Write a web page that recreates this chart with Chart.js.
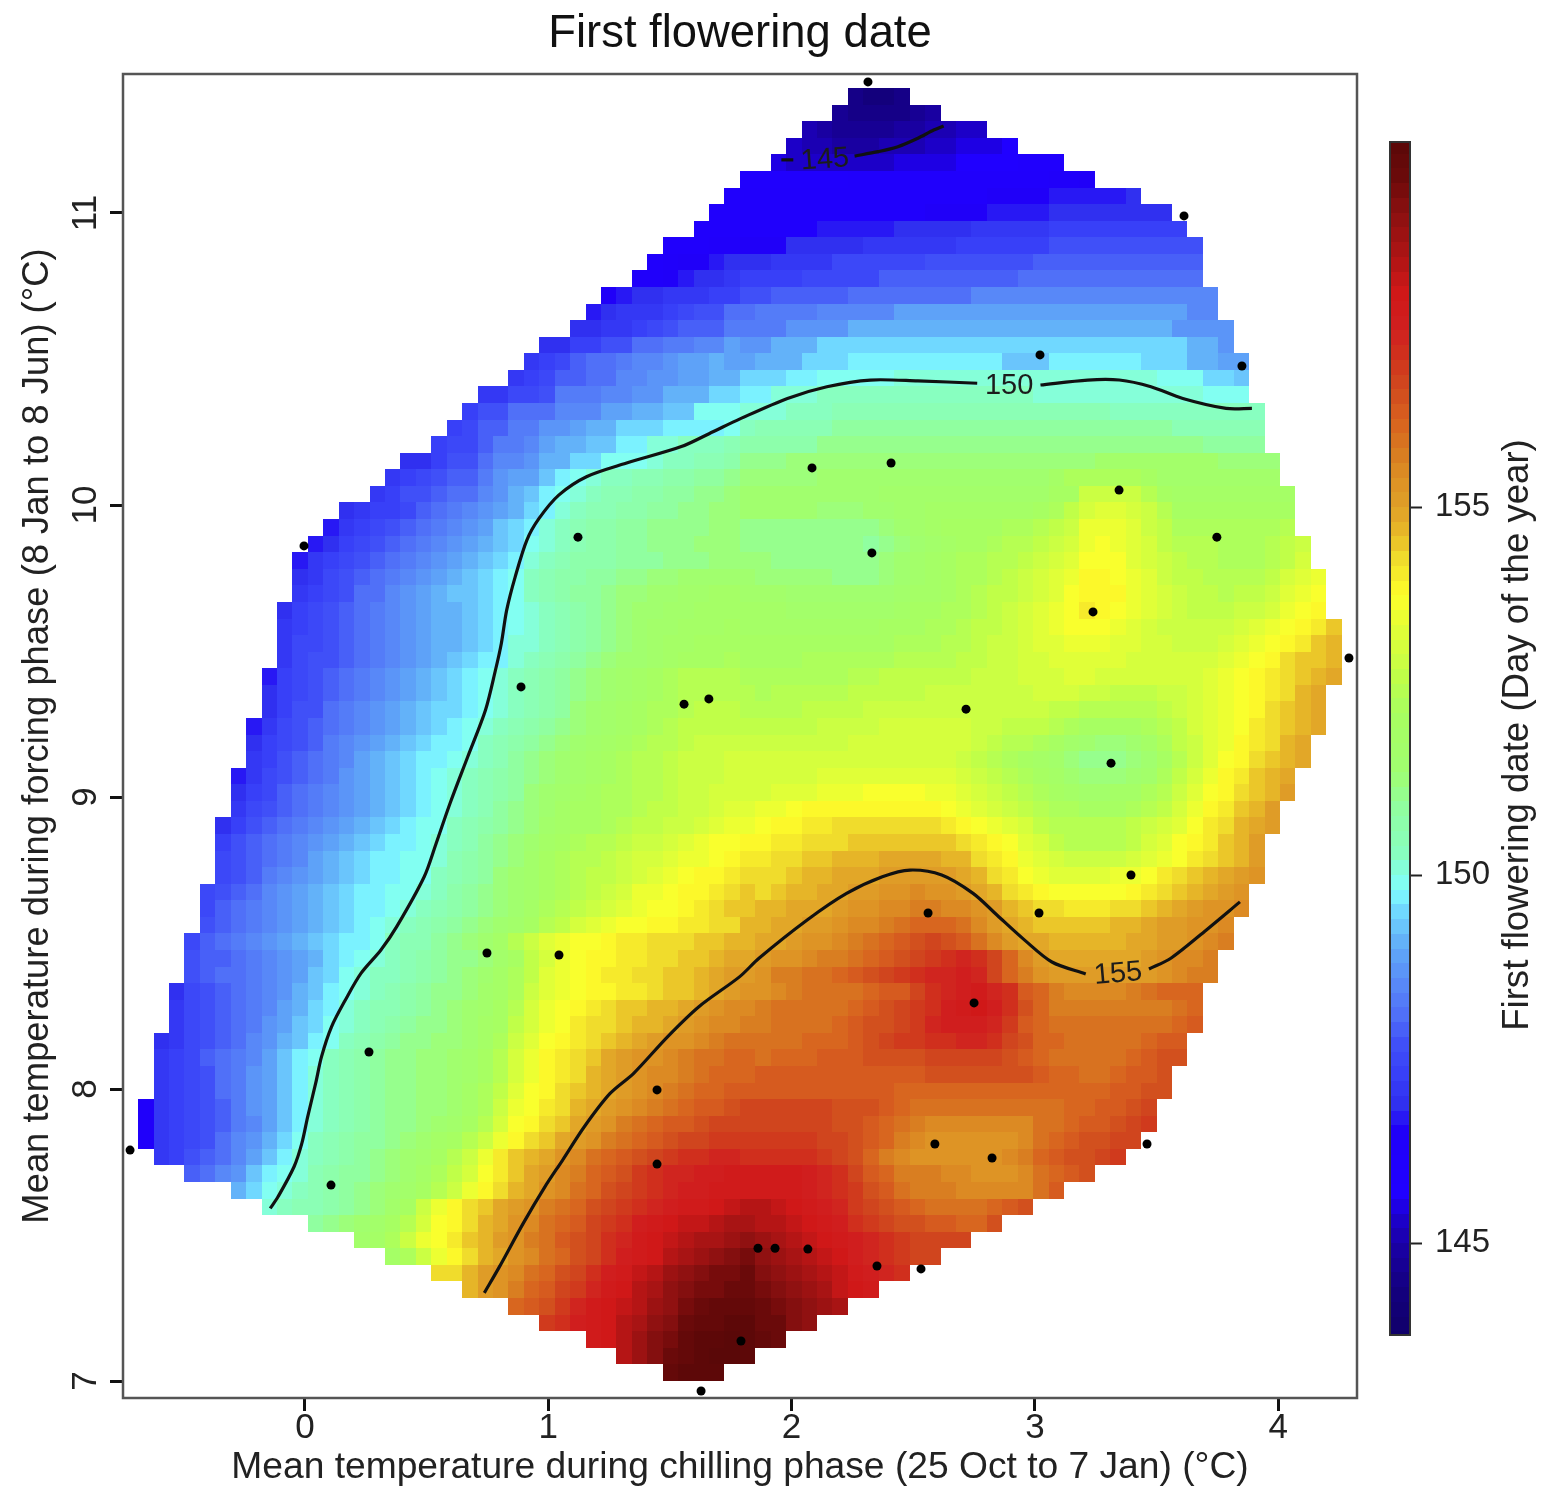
<!DOCTYPE html>
<html>
<head>
<meta charset="utf-8">
<title>First flowering date</title>
<script src="https://cdn.jsdelivr.net/npm/chart.js@4/dist/chart.umd.min.js"></script>
<style>
  html, body { margin: 0; background: #fff; }
  #wrap { position: relative; width: 1561px; height: 1501px; }
  canvas { position: absolute; top: 0; }
  #main { left: 0; }
  #bar { left: 1370px; }
</style>
</head>
<body>
<div id="wrap">
  <canvas id="main" width="1561" height="1501"></canvas>
  <canvas id="bar" width="191" height="1501"></canvas>
</div>
<script>
const xTicks = [0, 1, 2, 3, 4];
const yTicks = [7, 8, 9, 10, 11];
const barTicks = [145, 150, 155];

// grid: first cell centre and spacing, in axis units
const gridX0 = -0.654, gridDx = 0.06342;
const gridY0 = 11.399, gridDy = 0.05675;

// first column of each row, top row first
const rowStarts = [46,45,43,42,41,39,38,37,36,34,33,32,30,29,28,26,25,24,22,21,20,19,17,16,15,13,12,11,10,10,10,9,9,9,9,8,8,8,7,7,7,6,6,6,5,5,5,5,4,4,4,3,3,3,2,2,2,1,1,1,1,0,0,0,1,3,6,8,11,14,16,19,21,24,26,29,31,34];

// flowering date per cell, in tenths of a day above day 140 (100 = day 150)
const cellRows = [
[45,43,43,45],
[47,45,44,44,45, 46,48],
[50,48,47,46,46,47,48, 49,50,51,52,53],
[52,51,50,49,49,49,50,51, 51,52,53,54,55,55,56],
[54,53,53,52,52,52,53,53,54, 54,55,55,56,56,57,57,58,58,58],
[58, 58,58,58,58,58,58,60,60,60,60, 60,60,60,60,60,60,60,60,60,63, 63,64],
[60,60, 60,60,60,60,60,60,60,60,60,60, 60,60,60,61,61,65,65,65,65,66, 66,66,66,67,68],
[60,60,60, 60,60,60,60,60,60,60,60,60,60, 60,64,64,64,64,67,67,67,67,69, 69,69,69,69,69,69,69],
[61,61,61,61, 61,61,61,61,66,66,66,66,66,68, 68,68,68,68,70,70,70,70,70,72, 72,72,72,72,72,72,72,72],
[60,60,61,62,63,65, 65,65,68,68,68,68,68,71,71,71, 71,71,71,73,73,73,73,73,73,76, 76,76,76,76,76,76,76,76,76],
[60,63,65,65,66,68,68, 68,71,71,71,71,74,74,74,74,74, 74,77,77,77,77,77,77,77,79,79, 79,79,79,79,79,79,79,79,79],
[62,63,65,66,68,68,71,72, 72,72,72,75,75,75,75,75,78,78, 78,78,78,78,78,78,78,81,81,81, 81,81,81,81,81,81,81,81,81],
[64,66,68,68,70,71,71,73,73,76, 76,78,78,78,78,78,81,81,81,81, 81,81,81,81,84,84,84,84,84,84, 84,84,84,84,84,84,84,84,84,84],
[66, 68,70,70,71,72,74,77,77,80,80, 82,82,82,82,84,84,84,84,84,88, 88,88,88,88,88,88,88,88,88,88, 88,88,88,88,88,88,88,88,85,85],
[68,69, 71,71,73,75,76,78,78,78,82,83, 83,83,87,87,87,87,91,91,91,91, 91,91,91,91,91,91,91,91,91,91, 91,91,91,91,91,91,91,87,87,87,87],
[69,69,72,72, 76,76,80,80,82,82,85,85,88,87, 87,90,90,90,94,94,94,94,94,94, 94,94,94,94,94,94,94,94,94,94, 94,94,94,94,94,94,94,94,90,90,86],
[70,73,75,78,80, 81,83,84,85,87,88,89,90,89,88, 91,91,91,94,94,94,97,97,97,97, 97,97,97,97,97,97,93,93,93,97, 97,97,97,97,97,94,94,94,91,91,88,88],
[71,73,75,78,78,80, 80,84,84,86,86,89,89,91,91,94, 94,94,97,97,99,99,99,99,99,100, 100,100,100,100,100,100,100,100,100,100, 100,100,100,100,100,100,99,98,98,95,95,92],
[71,71,74,74,77,82,82,82, 85,85,87,87,90,90,90,94,94,97, 97,101,101,101,103,103,103,103,103,103, 103,103,103,103,103,103,102,102,101,101, 101,100,100,100,100,100,100,100,100,98,98,98],
[72,76,76,80,80,80,85,85,85, 88,88,90,90,93,93,98,98,98,100, 100,100,103,103,103,105,105,105,105,105, 105,105,105,105,105,105,105,105,105,105, 105,105,105,103,103,103,103,103,103,103,103,103,103],
[72,75,79,79,82,82,86,86,88,91, 91,94,94,94,97,97,97,97,99,102, 105,105,105,105,105,108,108,108,108,108, 108,108,108,108,108,108,108,108,108,108, 108,108,108,108,108,108,108,105,105,105,105,105,105],
[72, 75,75,78,82,82,85,88,90,90,93, 93,97,97,100,100,102,102,102,104,107, 107,107,107,107,111,111,111,111,111,111, 111,111,111,111,111,111,111,111,111,111, 111,111,111,111,111,111,111,111,111,108,108,108,108],
[69,69,73, 77,77,81,84,84,87,91,91,95,95, 98,98,99,101,103,103,104,105,106,110, 110,110,113,113,113,113,113,113,113,113, 113,113,113,113,113,113,113,113,113,113, 113,113,116,116,116,116,116,116,116,116,112,112,112,112],
[70,72,74,76, 79,79,83,86,89,89,93,97,99,101, 102,103,104,105,106,107,108,109,110,112, 112,112,112,112,115,115,115,115,115,115, 115,115,115,115,115,115,115,115,115,118, 122,122,122,122,122,120,116,116,116,116,116,116,116,116],
[71,73,76,76,78, 81,81,84,87,90,93,96,99,101,103, 104,105,106,107,108,109,110,111,112,114, 114,114,114,114,114,114,114,114,117,117, 117,117,117,117,117,117,117,117,117,121, 121,128,128,128,128,125,121,119,119,119,119,119,119,119,119],
[69,70,72,73,75,78,80, 82,84,86,88,91,94,97,100,103,104, 105,106,107,108,109,110,111,112,113,114, 114,114,114,114,113,113,113,114,115,116, 117,118,118,118,118,119,119,119,120,122, 126,131,133,133,131,128,124,121,120,120,120,120,120,120,121],
[67,70,72,75,77,79,81,83, 85,87,89,92,94,97,100,103,105,106, 107,108,109,110,110,111,111,112,112,110, 110,110,110,110,110,110,110,110,112,114, 116,118,120,120,120,121,122,123,125,127, 129,134,135,134,132,129,126,123,122,122,122,122,122,123,125],
[66,69,72,74,76,78,80,82,84, 86,88,90,92,95,98,101,103,105,106, 107,108,109,110,111,111,112,112,112,111, 111,111,111,111,111,111,110,109,110,112, 114,116,118,120,121,122,124,125,127,129, 131,135,137,135,133,130,127,125,124,124,123,123,123,124,126,128],
[66,70,72,75,77,78,80,82,84,86, 88,90,92,94,97,101,103,104,106,107, 107,108,109,109,110,111,111,112,112,112, 112,111,111,111,111,110,110,110,112,114, 116,118,120,122,122,124,125,127,128,130, 133,137,137,136,133,131,128,126,124,124,123,122,123,125,127,130],
[68,71,74,76,78,80,82,84,86,88, 90,92,94,96,99,102,104,106,107,108, 109,110,111,112,113,114,114,115,115,114, 113,113,112,112,112,111,111,111,113,115, 117,118,120,122,123,125,126,128,130,132, 135,138,138,137,134,132,129,127,126,125,124,124,125,127,130,132,134],
[70,73,75,77,80,81,84,86,88,90, 92,93,95,97,99,102,104,106,108,109, 110,112,113,114,115,116,117,118,118,117, 116,116,115,115,115,114,114,114,115,117, 118,119,121,123,124,126,127,129,131,133, 136,139,139,138,135,133,130,128,127,126,125,126,127,129,132,135,137],
[68, 72,74,76,78,80,82,84,86,88,90, 91,93,95,97,99,101,103,105,107,109, 111,112,114,115,116,117,118,118,119,118, 118,118,117,117,117,116,116,116,117,118, 120,121,122,123,125,126,128,130,132,134, 137,140,139,137,134,132,130,128,127,127,127,128,129,131,134,137,139],
[70, 73,75,77,79,81,82,84,86,88,90, 91,93,95,97,99,101,103,105,107,109, 111,113,114,116,117,118,119,119,120,119, 119,119,119,119,119,119,119,119,120,120, 121,122,123,124,126,127,129,131,132,134, 136,137,136,134,133,131,129,128,128,128,129,130,132,134,136,139,141,145],
[70, 74,75,77,79,81,83,84,86,88,90, 91,93,95,97,100,101,103,105,107,109, 111,113,115,116,118,119,120,120,121,120, 120,120,120,120,120,121,121,121,121,122, 122,123,124,125,126,128,129,130,132,133, 134,135,134,133,132,131,130,129,129,129,130,132,134,136,139,141,144,146],
[71, 74,76,77,79,81,83,85,87,88,90, 92,94,96,97,100,102,104,106,108,110, 112,114,115,117,119,120,121,121,122,121, 121,121,121,122,122,122,123,123,123,124, 124,124,125,126,127,128,129,130,131,132, 132,132,132,132,131,131,130,130,130,131,132,134,136,139,142,144,145,147],
[66,72, 75,76,79,80,83,85,87,89,91,93, 95,97,99,100,102,104,106,108,110,112, 114,116,118,120,122,124,124,124,124,123, 122,122,122,122,122,123,124,125,126,126, 126,126,127,127,128,128,129,130,131,131, 132,132,131,131,130,130,130,130,131,132,134,136,138,141,143,145,147,148],
[68,72, 75,77,79,81,83,85,87,89,91,93, 95,97,99,101,103,105,107,109,111,113, 115,117,119,120,122,124,125,125,125,124, 123,124,124,124,125,125,126,126,127,127, 127,128,128,128,128,129,129,129,130,130, 130,129,128,127,127,127,128,129,130,132,134,137,139,141,143,146,148],
[69,73, 76,77,80,82,84,86,88,90,92,94, 95,97,99,101,103,105,107,109,112,114, 116,118,120,122,123,125,126,126,126,125, 124,125,125,126,126,127,127,128,128,129, 129,129,129,129,129,128,128,128,128,127, 126,125,124,124,124,125,126,128,130,132,135,137,139,142,144,147,149],
[67,71,74, 76,78,80,82,85,87,89,91,93,95, 96,98,100,102,104,106,108,110,112,114, 117,119,121,123,124,126,127,127,127,126, 126,126,127,127,128,128,129,129,130,130, 130,130,130,130,129,128,127,127,126,124, 123,121,120,120,121,123,125,127,130,132,135,137,140,142,145,147,149],
[69,72,75, 77,79,82,84,86,88,90,92,94,96, 97,99,102,104,106,108,110,112,114,116, 118,120,122,124,125,127,128,128,128,128, 128,128,128,128,129,129,130,130,131,131, 131,131,130,130,128,127,125,124,122,120, 117,114,113,113,115,118,122,126,129,132,135,138,140,143,146,148],
[70,73,76, 78,80,83,85,88,90,92,94,96,97, 99,100,103,105,108,110,112,114,116,118, 120,122,124,125,127,128,129,129,130,130, 130,130,130,130,130,130,131,131,131,131, 131,130,130,129,127,125,123,121,119,117, 113,111,110,110,112,115,120,125,129,133,136,139,142,145,147,149],
[67,71,74,77, 79,81,83,86,88,90,92,94,96,98, 100,102,104,106,109,111,113,115,117,119, 121,123,124,125,127,128,129,129,130,130, 130,130,130,131,132,132,133,133,133,133, 133,133,132,131,129,127,125,122,120,118, 115,113,112,112,114,117,122,127,131,135,138,141,144,146,148],
[69,72,75,78, 80,82,84,86,89,91,93,95,97,98, 101,102,104,107,109,112,114,116,118,120, 122,123,124,125,127,128,129,130,131,131, 131,132,132,133,134,135,135,136,137,137, 136,135,134,132,130,128,126,124,122,120, 118,117,117,118,119,122,125,129,133,136,139,142,145,147,150],
[71,74,76,79, 81,83,85,87,89,91,93,95,97,98, 101,103,105,108,110,112,115,118,120,121, 122,123,125,126,127,128,129,131,132,133, 134,135,137,138,138,139,139,139,139,139, 139,138,137,135,133,131,129,127,125,123, 122,121,121,121,122,124,127,131,135,138,141,144,147,150],
[69,73,76,78,80, 82,84,86,88,90,92,94,96,98,99, 102,104,106,109,111,113,116,118,120,121, 123,124,126,127,128,129,130,132,134,135, 136,138,139,140,141,142,142,143,143,143, 143,142,141,139,137,135,132,130,127,125, 124,124,124,125,126,128,130,133,137,140,143,146,148,151],
[72,76,78,81,83, 85,87,89,91,93,95,96,97,98,100, 103,105,108,111,113,115,119,121,123,124, 125,126,128,129,130,132,134,136,137,138, 139,140,141,142,143,143,144,144,145,145, 145,145,144,143,141,139,136,133,130,127, 125,124,124,125,127,130,133,136,139,141,144,147,150],
[74,77,79,81,83, 85,88,90,92,94,96,97,98,99,101, 104,106,108,111,113,116,120,122,124,125, 126,128,130,131,132,134,135,137,139,140, 141,142,143,144,145,146,147,147,148,148, 148,148,147,146,143,141,138,135,132,130, 129,128,128,129,130,132,135,137,140,142,145,147,150],
[75,77,79,82,84, 86,88,90,92,94,96,97,98,99,102, 105,107,109,112,114,116,120,122,124,126, 127,129,131,133,134,136,138,139,141,142, 142,143,145,146,147,148,149,149,150,151, 151,151,150,148,146,143,140,137,135,133, 132,132,133,134,135,137,140,142,144,146,148,150,152],
[74,77,79,81,84,86, 88,90,92,94,96,97,98,99,100,103, 106,108,110,112,114,116,121,123,125,127, 129,131,134,135,136,138,139,141,143,145, 143,145,146,147,148,149,150,151,152,153, 154,153,152,150,148,146,143,140,138,137, 136,136,137,137,139,141,143,145,147,149,151,152],
[75,78,80,82,84,86, 88,90,92,94,96,97,98,100,102,104, 107,109,111,113,115,118,122,125,127,129, 131,133,135,136,137,138,140,142,144,145, 146,147,148,149,149,150,152,153,154,155, 156,156,155,154,152,150,147,144,143,142, 141,141,141,142,143,145,147,149,150,152,153,154],
[76,78,81,83,85,87, 89,91,93,95,97,98,100,102,104,106, 109,111,113,115,117,120,125,127,130,132, 134,136,137,138,139,140,141,142,143,146, 147,148,149,150,151,152,154,155,157,158, 160,161,160,158,155,151,149,147,145,145, 145,144,145,146,147,148,150,151,152,153,155],
[75,78,80,82,84,86,88, 90,92,94,96,97,99,102,104,105,108, 110,112,114,118,124,129,132,134,136,137, 139,140,141,142,142,143,144,145,146,147, 148,149,150,152,153,155,157,159,161,163, 165,166,165,162,158,154,151,149,148,147, 146,146,147,147,148,149,150,151,153,154,156],
[76,78,78,80,82,84,86, 88,91,94,97,99,101,102,104,106,108, 110,111,113,117,121,126,130,134,137,138, 139,140,141,142,143,144,145,146,148,149, 150,152,153,155,156,157,159,161,163,165, 167,169,171,172,170,167,160,155,150,148, 148,148,148,148,148,150,152,154,155,156],
[76,78,80,81,83,85,87, 89,92,95,98,100,102,103,105,107,109, 110,112,114,118,122,127,132,135,137,138, 140,141,142,143,144,145,147,148,150,151, 153,156,157,158,159,160,162,164,166,168, 170,172,173,174,172,167,160,156,152,150, 150,150,150,150,150,150,152,154,156,157],
[68,74,77,79,81,83,85,87, 90,93,96,99,101,103,104,106,108,110, 111,113,116,119,123,128,132,135,137,138, 139,140,141,143,144,145,147,149,151,153, 153,155,157,158,158,158,159,160,162,163, 167,170,172,174,176,172,170,163,160,156, 154,154,154,154,156,158,160,160,161],
[70,75,77,78,80,82,85,88, 91,94,97,100,102,104,105,107,109,111, 112,114,117,120,124,130,134,137,139,141, 142,144,145,146,147,149,150,152,154,155, 156,158,158,158,158,159,161,162,164,166, 168,171,174,176,178,174,170,164,160,157, 156,156,156,156,156,156,157,158,161],
[70,75,77,79,81,83,86,89, 92,95,98,101,103,105,106,108,110,111, 113,115,118,121,126,131,135,137,140,142, 143,145,146,147,149,150,152,154,155,157, 157,158,158,158,158,160,162,164,165,167, 169,172,174,175,175,172,168,163,160,158, 158,158,158,158,158,158,159,160,162],
[68,71,74,77,79,81,84,87,90, 93,96,99,102,104,106,108,110,111,112, 113,115,119,123,128,132,136,138,141,143, 145,147,148,150,152,153,155,156,158,159, 159,159,159,160,160,161,163,165,166,168, 169,170,171,172,172,170,167,164,161,160, 159,159,159,159,159,160,162,163],
[70,72,75,78,80,83,85,88,92, 96,99,102,104,106,108,110,111,112,113, 114,116,120,124,130,134,138,140,143,145, 148,150,152,153,155,156,158,159,160,160, 159,160,160,161,162,163,163,164,165,165, 165,166,166,166,166,166,165,163,161,159, 159,159,159,159,160,162,164,165],
[70,72,75,77,80,83,86,89,93, 97,100,102,104,106,108,110,111,112,113, 115,117,121,125,131,135,138,141,143,146, 148,150,152,154,155,157,158,160,161,161, 162,163,163,163,163,163,163,163,163,163, 163,164,164,164,164,164,164,164,163,161, 160,159,159,160,162,163,164],
[70,72,74,77,80,83,86,89,93, 97,100,102,105,106,108,110,111,112,113, 115,118,122,127,132,136,139,142,144,147, 149,151,153,155,157,158,160,161,162,163, 163,163,163,163,163,163,163,163,163,161, 160,160,160,160,160,160,160,160,160,160, 160,161,161,162,163,164,165],
[62,70,72,74,76,79,83,86,89,93, 97,101,103,105,107,108,110,111,112,113, 115,118,122,128,134,137,140,143,146,148, 150,153,155,157,159,161,162,163,164,166, 166,166,166,166,166,165,164,164,163,160, 158,158,158,158,158,158,158,158,158,158, 160,161,162,163,165,166],
[62,70,72,74,76,78,83,85,89,93, 97,101,103,105,107,108,110,111,113,115, 117,120,124,130,136,139,142,145,148,151, 153,156,158,160,162,163,165,166,167,167, 167,167,167,167,166,165,164,163,161,158, 156,155,155,155,155,155,155,155,158,159, 161,162,163,165,167,168],
[62,70,72,75,77,80,84,87,90,94, 98,102,104,106,108,109,111,113,115,118, 120,124,128,134,139,142,145,148,150,153, 156,158,161,163,165,166,167,168,169,169, 169,169,169,168,167,166,165,163,160,157, 155,152,152,152,152,152,153,155,158,160, 162,164,165,166,167],
[70,72,76,78,81,85,89,92,96, 100,103,105,107,108,110,112,114,117,120, 124,129,135,140,144,147,149,152,155,158, 160,162,165,167,168,170,171,172,172,171, 171,171,171,170,168,166,164,160,157,155, 153,152,152,152,152,152,155,157,160,162, 164,165,167,168],
[78,81,84,87,92,96,99, 101,104,106,108,109,111,113,115,118,122, 126,131,137,141,145,148,151,154,157,160, 163,165,168,170,172,173,174,175,176,176, 176,176,176,174,172,170,167,163,160,157, 157,156,155,154,153,153,153,155,158,160, 162,165],
[90,94,98,101, 103,105,106,108,110,112,114,116,120,124, 128,134,139,143,146,149,152,155,158,161, 164,167,169,171,173,174,175,176,176,177, 177,177,177,175,173,170,168,165,162,159, 157,156,156,155,155,155,155,155,158,163],
[100,103, 104,105,106,108,111,113,117,121,128,135, 138,142,145,148,150,153,156,159,161,164, 166,169,171,173,175,176,177,178,180,182, 182,180,179,177,174,172,169,167,165,163, 161,159,158,158,158,160,162,164],
[108,110,112,114,117,120,124,130,136, 139,143,146,149,152,155,158,161,163,166, 168,171,174,176,178,180,181,182,184,184, 183,182,180,178,176,174,171,168,166,165, 164,163,162,161,160,164],
[116,119,123,128,134,137, 141,144,147,150,153,156,159,162,165,167, 170,173,176,178,180,182,184,185,186,188, 187,185,183,181,179,177,175,172,170,168, 166,166,166,166],
[118,122,128,135, 138,143,147,149,152,155,158,161,164,167, 171,174,177,179,182,185,187,189,191,192, 189,187,185,183,181,178,175,172,170,168, 167,167],
[142, 143,146,150,152,155,158,161,164,167,171, 174,177,180,183,186,188,190,192,193,194, 191,189,187,185,183,180,177,174,172,170],
[147,150,153,157,160,163,166,169,173, 176,179,182,185,188,190,192,193,194,195, 192,190,188,186,184,181,178,176],
[161,163,165,168,172,176, 178,180,183,186,189,192,194,196,197,197, 194,192,190,188,186,184],
[168,171,174,177, 179,182,185,188,191,194,196,197,198,198, 195,194,191,188],
[177, 178,182,186,190,193,196,198,199,200,199, 197,194],
[183,187,191,194,197,199,200,200,199],
[197,198,199,198]
];

// colour bar levels, same units as cellRows
const barLevels = [36,38,40,42,44,46,48,50,52,54,56,58,60,62,64,66,68,70,72,74,76,78,80,82,84,86,88,90,92,94,96,98,100,102,104,106,108,110,112,114,116,118,120,122,124,126,128,130,132,134,136,138,140,142,144,146,148,150,152,154,156,158,160,162,164,166,168,170,172,174,176,178,180,182,184,186,188,190,192,194,196,198];

// colours
const rampValues = [38,44,50,53,57,65,69,73,77,81,85,90,95,98,103,109,114,122,127,133,138,143,146,150,154,158,162,166,170,174,179,185,190,195,200];
const rampColors = ["#10006a","#140080","#1a00a8","#1c00c8","#2000ff","#2000f8","#3030f0","#3840f8","#4050f8","#5070f8","#5888f8","#60a8f8","#70d8ff","#80ffff","#88ffc0","#90ffa0","#a0ff70","#a8ff60","#c0ff48","#e0ff38","#ffff2a","#f0dc2c","#e8bc28","#e0a028","#dd9024","#d87820","#d8601f","#d04a1e","#d0341c","#d02020","#d01818","#a81414","#8a1010","#6a0a0a","#5a0808"];

// sample sites
const siteX = [2.314,3.613,3.021,3.851,2.084,2.409,3.346,3.748,-0.004,1.122,2.330,3.239,4.291,0.888,1.558,1.660,2.717,3.313,3.395,2.561,3.017,0.748,1.044,2.750,0.263,1.447,-0.719,1.447,2.589,3.461,2.824,0.107,1.862,1.932,2.067,2.351,2.532,1.792,1.628];
const siteY = [11.449,10.990,10.514,10.476,10.127,10.144,10.051,9.890,9.860,9.890,9.836,9.634,9.476,9.377,9.318,9.336,9.301,9.116,8.733,8.603,8.603,8.466,8.459,8.295,8.127,7.997,7.791,7.743,7.812,7.812,7.764,7.671,7.455,7.455,7.452,7.394,7.384,7.137,6.966];

// contour pieces, split where the labels sit
const c145aX = [1.958,2.007];
const c145aY = [11.182,11.182];
const c145bX = [2.259,2.355,2.437,2.519,2.584,2.625];
const c145bY = [11.195,11.210,11.227,11.256,11.284,11.298];
const c150aX = [-0.143,-0.111,-0.045,-0.013,0.011,0.044,0.068,0.109,0.166,0.230,0.312,0.377,0.490,0.539,0.596,0.669,0.742,0.783,0.807,0.829,0.864,0.912,0.962,1.043,1.157,1.319,1.547,1.677,1.788,1.983,2.145,2.324,2.519,2.763];
const c150aY = [7.591,7.631,7.734,7.814,7.905,8.020,8.111,8.213,8.305,8.396,8.476,8.556,8.727,8.841,8.978,9.138,9.298,9.435,9.526,9.640,9.754,9.880,9.954,10.034,10.097,10.143,10.200,10.251,10.295,10.365,10.405,10.428,10.425,10.417];
const c150bX = [3.023,3.217,3.347,3.477,3.608,3.786,3.892];
const c150bY = [10.411,10.428,10.428,10.405,10.365,10.331,10.331];
const c155aX = [0.737,0.799,0.897,0.986,1.059,1.148,1.254,1.351,1.490,1.619,1.787,1.866,2.064,2.226,2.373,2.487,2.617,2.746,2.844,2.958,3.070,3.209];
const c155aY = [7.302,7.391,7.540,7.665,7.757,7.871,7.985,8.054,8.179,8.282,8.385,8.448,8.579,8.670,8.727,8.750,8.733,8.670,8.596,8.510,8.435,8.394];
const c155bX = [3.469,3.559,3.705,3.843];
const c155bY = [8.411,8.448,8.545,8.641];

const labelText = ["145", "150", "155"];
const labelX = [2.137, 2.894, 3.342];
const labelY = [11.182, 10.408, 8.394];
const labelAngle = [-4, 0, -5];

const FONT = '"Liberation Sans", Arial, sans-serif';
const INK = "#222";

function hexToRgb(h) {
  return [parseInt(h.slice(1, 3), 16), parseInt(h.slice(3, 5), 16), parseInt(h.slice(5, 7), 16)];
}

// value -> colour, 2-unit bands like the colour bar
function colorFor(v) {
  const b = Math.floor(v / 2) * 2 + 1;
  let i = 0;
  while (i < rampValues.length - 2 && b > rampValues[i + 1]) i++;
  const t = Math.min(1, Math.max(0, (b - rampValues[i]) / (rampValues[i + 1] - rampValues[i])));
  const a = hexToRgb(rampColors[i]), c = hexToRgb(rampColors[i + 1]);
  return "rgb(" + a.map((n, k) => Math.round(n + (c[k] - n) * t)).join(",") + ")";
}

function pairs(xs, ys) {
  return xs.map((x, i) => ({ x: x, y: ys[i] }));
}

const cells = [];
cellRows.forEach((row, k) => {
  row.forEach((v, n) => {
    cells.push({ x: gridX0 + (rowStarts[k] + n) * gridDx, y: gridY0 - k * gridDy, v: v });
  });
});

function contourSet(xs, ys) {
  return { data: pairs(xs, ys), showLine: true, borderColor: "#111", borderWidth: 3.2, pointRadius: 0, tension: 0.3 };
}

// paints the heat cells through the chart's own scales
const heatPlugin = {
  id: "heat",
  beforeDatasetsDraw(chart) {
    const { ctx, scales: { x, y } } = chart;
    ctx.save();
    cells.forEach((c) => {
      const l = Math.round(x.getPixelForValue(c.x - gridDx / 2));
      const r = Math.round(x.getPixelForValue(c.x + gridDx / 2));
      const t = Math.round(y.getPixelForValue(c.y + gridDy / 2));
      const b = Math.round(y.getPixelForValue(c.y - gridDy / 2));
      ctx.fillStyle = colorFor(c.v);
      ctx.fillRect(l, t, r - l, b - t);
    });
    ctx.restore();
  },
  afterDatasetsDraw(chart) {
    const { ctx, scales: { x, y }, chartArea: a } = chart;
    ctx.save();
    ctx.fillStyle = "#1c1c1c";
    ctx.font = "29px " + FONT;
    ctx.textAlign = "center";
    ctx.textBaseline = "middle";
    labelText.forEach((s, i) => {
      ctx.save();
      ctx.translate(x.getPixelForValue(labelX[i]), y.getPixelForValue(labelY[i]));
      ctx.rotate(labelAngle[i] * Math.PI / 180);
      ctx.fillText(s, 0, 0);
      ctx.restore();
    });
    ctx.strokeStyle = "#555";
    ctx.lineWidth = 2.5;
    ctx.strokeRect(a.left, a.top, a.right - a.left, a.bottom - a.top);
    ctx.restore();
  },
};

new Chart(document.getElementById("main"), {
  type: "scatter",
  plugins: [heatPlugin],
  data: {
    datasets: [
      { label: "sites", data: pairs(siteX, siteY), pointRadius: 4.5, pointBackgroundColor: "#000", pointBorderWidth: 0, showLine: false },
      contourSet(c145aX, c145aY),
      contourSet(c145bX, c145bY),
      contourSet(c150aX, c150aY),
      contourSet(c150bX, c150bY),
      contourSet(c155aX, c155aY),
      contourSet(c155bX, c155bY),
    ],
  },
  options: {
    responsive: false,
    animation: false,
    devicePixelRatio: 1,
    layout: { padding: { left: 0, right: 204, top: 0, bottom: 0 } },
    plugins: {
      legend: { display: false },
      tooltip: { enabled: false },
      title: {
        display: true,
        text: "First flowering date",
        fullSize: false,
        color: "#111",
        font: { family: FONT, size: 45.4, weight: "normal", lineHeight: 1 },
        padding: { top: 12, bottom: 16.6 },
      },
    },
    scales: {
      x: {
        type: "linear",
        min: -0.748,
        max: 4.324,
        afterFit: (s) => { s.height = 103; },
        afterBuildTicks: (s) => { s.ticks = xTicks.map((v) => ({ value: v })); },
        grid: { drawOnChartArea: false, tickLength: 13, tickWidth: 3, tickColor: "#111" },
        border: { display: false },
        ticks: { autoSkip: false, maxRotation: 0, padding: 0, color: INK, font: { family: FONT, size: 35, lineHeight: 1 } },
        title: { display: true, text: "Mean temperature during chilling phase (25 Oct to 7 Jan) (°C)", color: INK, font: { family: FONT, size: 37.2, lineHeight: 1.2 }, padding: { top: 0, bottom: 11 } },
      },
      y: {
        type: "linear",
        min: 6.942,
        max: 11.476,
        afterFit: (s) => { s.width = 123; },
        afterBuildTicks: (s) => { s.ticks = yTicks.map((v) => ({ value: v })); },
        grid: { drawOnChartArea: false, tickLength: 13, tickWidth: 3, tickColor: "#111" },
        border: { display: false },
        ticks: { autoSkip: false, minRotation: 90, maxRotation: 90, crossAlign: "center", padding: 4, color: INK, font: { family: FONT, size: 35, lineHeight: 1 } },
        title: { display: true, text: "Mean temperature during forcing phase (8 Jan to 8 Jun) (°C)", color: INK, font: { family: FONT, size: 36.4, lineHeight: 1.2 }, padding: { top: 16, bottom: 0 } },
      },
    },
  },
});

// colour bar
const barPlugin = {
  id: "barCells",
  beforeDatasetsDraw(chart) {
    const { ctx, scales: { y }, chartArea: a } = chart;
    ctx.save();
    barLevels.forEach((lv) => {
      const top = Math.max(a.top, Math.round(y.getPixelForValue(140 + (lv + 2) / 10)));
      const bot = Math.min(a.bottom, Math.round(y.getPixelForValue(140 + lv / 10)));
      ctx.fillStyle = colorFor(lv);
      ctx.fillRect(a.left, top, a.right - a.left, bot - top);
    });
    ctx.strokeStyle = "#333";
    ctx.lineWidth = 2;
    ctx.strokeRect(a.left, a.top, a.right - a.left, a.bottom - a.top);
    ctx.restore();
  },
  afterDraw(chart) {
    const { ctx } = chart;
    ctx.save();
    ctx.translate(148, 735);
    ctx.rotate(-Math.PI / 2);
    ctx.fillStyle = INK;
    ctx.font = "36.6px " + FONT;
    ctx.textAlign = "center";
    ctx.textBaseline = "middle";
    ctx.fillText("First flowering date (Day of the year)", 0, 0);
    ctx.restore();
  },
};

new Chart(document.getElementById("bar"), {
  type: "scatter",
  plugins: [barPlugin],
  data: { datasets: [{ data: barLevels.map((lv) => ({ x: 0.5, y: 140 + lv / 10 })), pointRadius: 0 }] },
  options: {
    responsive: false,
    animation: false,
    devicePixelRatio: 1,
    layout: { padding: { left: 20, right: 0, top: 142, bottom: 166 } },
    plugins: { legend: { display: false }, tooltip: { enabled: false } },
    scales: {
      x: { type: "linear", min: 0, max: 1, display: false },
      y: {
        type: "linear",
        position: "right",
        min: 143.75,
        max: 159.96,
        afterFit: (s) => { s.width = 151; },
        afterBuildTicks: (s) => { s.ticks = barTicks.map((v) => ({ value: v })); },
        grid: { drawOnChartArea: false, tickLength: 12, tickWidth: 2, tickColor: "#222" },
        border: { display: false },
        ticks: { autoSkip: false, padding: 13, color: INK, font: { family: FONT, size: 33 } },
      },
    },
  },
});
</script>
</body>
</html>
